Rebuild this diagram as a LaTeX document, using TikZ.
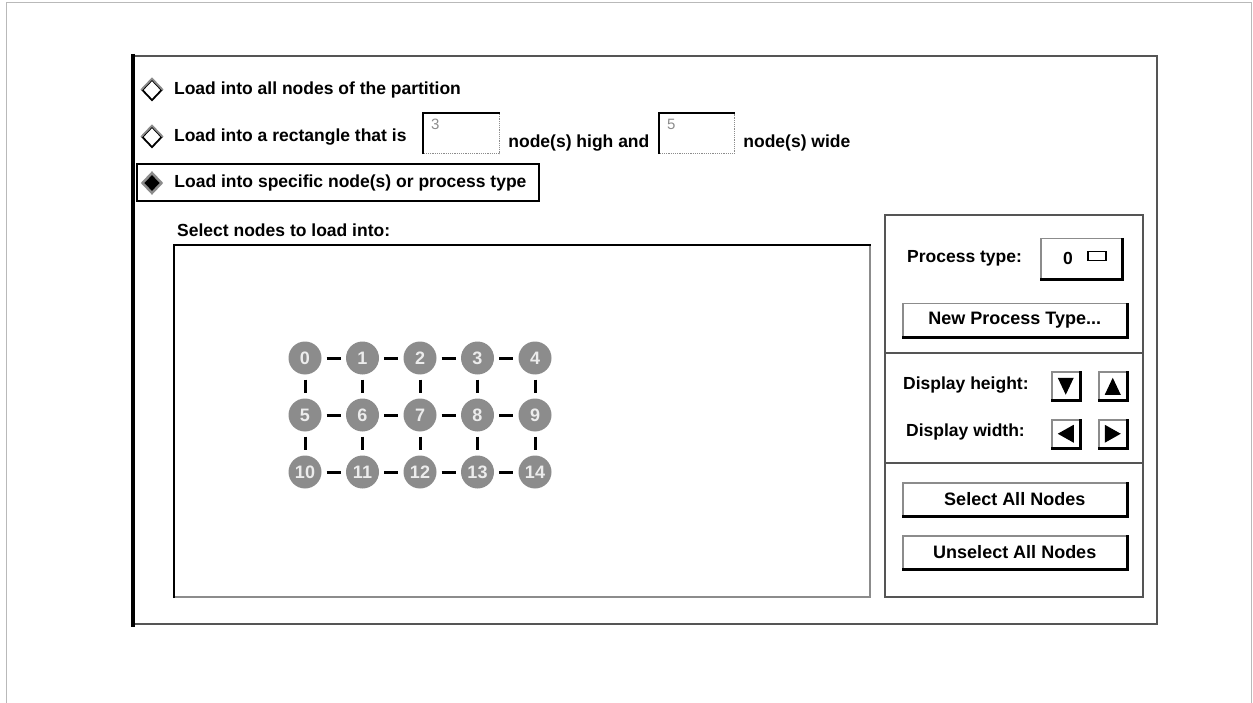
\documentclass[tikz,border=0pt]{standalone}
\usepackage{fontspec}
\setmainfont{Liberation Sans}
\usepackage{tikz}
\usetikzlibrary{positioning, shapes.geometric, calc}
\definecolor{FrameGray}{RGB}{85,85,85}
\definecolor{DotGray}{RGB}{140,140,140}
\definecolor{PeGray}{RGB}{140,140,140}
\tikzstyle{lbl} = [font=\bfseries\fontsize{17.5}{20}\selectfont, anchor=west, inner sep=0pt]
\tikzstyle{radio} = [diamond, draw=black, line width=1.8pt, minimum width=20pt, minimum height=21pt, inner sep=0pt]
\tikzstyle{field} = [draw=DotGray, densely dotted, line width=1.2pt, inner sep=0pt]
\tikzstyle{btn} = [draw=DotGray, line width=1.5pt, inner sep=0pt, font=\bfseries\fontsize{18}{20}\selectfont]
\tikzstyle{pe} = [circle, fill=PeGray, minimum size=33pt, inner sep=0pt, text=gray!15, font=\bfseries\fontsize{18}{18}\selectfont]
\tikzstyle{link} = [line width=3pt, shorten >=5pt, shorten <=5pt]

\begin{document}
\begin{tikzpicture}[x=1pt, y=-1pt]
    \useasboundingbox (0,0) rectangle (1253,703);

    % page and dialog frame
    \draw[gray!55, line width=1pt] (6,703) -- (6,3) -- (1251,3) -- (1251,703);
    \draw[FrameGray, line width=2pt] (133,56) -- (1157,56) -- (1157,624) -- (133,624);
    \draw[black, line width=4pt] (133,54) -- (133,627);

    % load options
    \node[radio] (opt1) at (152,90) {};
    \node[radio] (opt2) at (152,137) {};
    \node[radio, fill=black, draw=DotGray, line width=2.5pt] (opt3) at (152,183) {};
    \foreach \o in {opt1, opt2}
        \draw[DotGray, line width=1.8pt] (\o.west) -- (\o.north) -- (\o.east);
    \node[lbl, right=11pt of opt1] (txt1) {Load into all nodes of the partition};
    \node[lbl, right=11pt of opt2] (txt2) {Load into a rectangle that is};
    \node[lbl, right=11pt of opt3] (txt3) {Load into specific node(s) or process type};
    \node[draw, line width=2pt, minimum width=402pt, minimum height=37pt, anchor=north west] (selbox) at (136,163) {};

    \node[field, minimum width=76pt, minimum height=40pt, anchor=north west] (hfield) at (423,113) {};
    \node[field, minimum width=75pt, minimum height=40pt, anchor=north west] (wfield) at (659,113) {};
    \foreach \f in {hfield, wfield}
        \draw[black, line width=2pt] (\f.south west) -- (\f.north west) -- (\f.north east);
    \node[anchor=north west, inner sep=0pt, text=DotGray, font=\fontsize{15}{15}\selectfont] (hval) at ([shift={(8,6)}]hfield.north west) {3};
    \node[anchor=north west, inner sep=0pt, text=DotGray, font=\fontsize{15}{15}\selectfont] (wval) at ([shift={(8,6)}]wfield.north west) {5};
    \node[lbl] (txt4) at ([xshift=8pt, yshift=-9pt]hfield.east) {node(s) high and};
    \node[lbl] (txt5) at ([xshift=8pt, yshift=-9pt]wfield.east) {node(s) wide};

    % node selection area
    \node[lbl] (seltxt) at (177,230) {Select nodes to load into:};
    \draw[DotGray, line width=2pt] (870,245) -- (870,597) -- (174,597);
    \draw[black, line width=2.5pt] (174,598) -- (174,245) -- (871,245);

    \foreach \r in {0,1,2}
        \foreach \c in {0,...,4} {
            \pgfmathtruncatemacro\n{5*\r+\c}
            \node[pe] (n\n) at (305+57.5*\c, 358+57*\r) {\n};
        }
    \foreach \r in {0,1,2}
        \foreach \c in {0,...,3} {
            \pgfmathtruncatemacro\a{5*\r+\c}
            \pgfmathtruncatemacro\b{5*\r+\c+1}
            \draw[link] (n\a) -- (n\b);
        }
    \foreach \a in {0,...,9} {
        \pgfmathtruncatemacro\b{\a+5}
        \draw[link] (n\a) -- (n\b);
    }

    % right hand controls
    \draw[FrameGray, line width=2pt] (885,215) rectangle (1143,597);
    \draw[FrameGray, line width=2pt] (885,353) -- (1143,353);
    \draw[FrameGray, line width=2pt] (885,463) -- (1143,463);

    \node[lbl] (ptype) at (907,258) {Process type:};
    \node[btn, minimum width=81pt, minimum height=40pt, anchor=north west] (pfield) at (1040,238) {};
    \node[anchor=center, inner sep=0pt, font=\bfseries\fontsize{17.5}{20}\selectfont] (pval) at (1068,258) {0};
    \node[draw=black, line width=1.5pt, minimum width=18pt, minimum height=9pt, inner sep=0pt] (pmenu) at (1097,256) {};

    \node[btn, minimum width=224pt, minimum height=33pt, anchor=north west] (newtype) at (902,303) {New Process Type...};

    \node[lbl] (dheight) at (903,385) {Display height:};
    \node[lbl] (dwidth) at (906,432) {Display width:};
    \node[btn, minimum size=28pt, anchor=north west] (hdown) at (1051,371) {};
    \node[btn, minimum size=28pt, anchor=north west] (hup) at (1098,371) {};
    \node[btn, minimum size=28pt, anchor=north west] (wleft) at (1051,419) {};
    \node[btn, minimum size=28pt, anchor=north west] (wright) at (1098,419) {};
    \fill ([shift={(-8,-8)}]hdown.center) -- ([shift={(8,-8)}]hdown.center) -- ([shift={(0,9)}]hdown.center) -- cycle;
    \fill ([shift={(-8,9)}]hup.center) -- ([shift={(8,9)}]hup.center) -- ([shift={(0,-8)}]hup.center) -- cycle;
    \fill ([shift={(8,-9)}]wleft.center) -- ([shift={(8,9)}]wleft.center) -- ([shift={(-8,0)}]wleft.center) -- cycle;
    \fill ([shift={(-8,-9)}]wright.center) -- ([shift={(-8,9)}]wright.center) -- ([shift={(8,0)}]wright.center) -- cycle;

    \node[btn, minimum width=224pt, minimum height=33pt, anchor=north west] (selall) at (902,482) {Select All Nodes};
    \node[btn, minimum width=224pt, minimum height=33pt, anchor=north west] (unselall) at (902,535) {Unselect All Nodes};

    \foreach \b in {pfield, newtype, hdown, hup, wleft, wright, selall, unselall}
        \draw[black, line width=2.5pt] (\b.north east) -- (\b.south east) -- (\b.south west);
\end{tikzpicture}
\end{document}
